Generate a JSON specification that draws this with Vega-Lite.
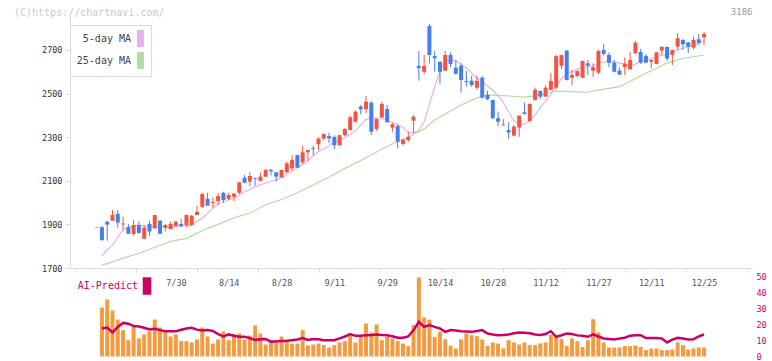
{
"$schema":"https://vega.github.io/schema/vega-lite/v6.json",
"width":682,"height":344,
"autosize":{"type":"none"},
"padding":{"left":70,"top":14,"right":20,"bottom":3},
"title":{"text":"(C)https://chartnavi.com/","anchor":"start","frame":"group","dx":-56,"offset":-19,"baseline":"alphabetic","color":"#c8c8c8","font":"DejaVu Sans Mono","fontSize":10,"fontWeight":"normal"},
"config":{"view":{"stroke":null},"font":"DejaVu Sans Mono","axis":{"domainColor":"#dcdcdc","tickColor":"#dcdcdc","labelFont":"DejaVu Sans Mono","labelFontSize":8.5,"labelColor":"#333","grid":false}},
"datasets":{
"ohlc":[
{"i":0,"d":"7/8","o":1886,"h":1888,"l":1885,"c":1888},
{"i":1,"d":"7/9","o":1887,"h":1893,"l":1825,"c":1828,"v":30.6},
{"i":2,"d":"7/10","o":1912,"h":1917,"l":1825,"c":1899,"v":35.6},
{"i":3,"d":"7/11","o":1917,"h":1966,"l":1917,"c":1943,"v":28.8},
{"i":4,"d":"7/14","o":1948,"h":1966,"l":1885,"c":1908,"v":23.1},
{"i":5,"d":"7/15","o":1900,"h":1935,"l":1874,"c":1904,"v":16.5},
{"i":6,"d":"7/16","o":1888,"h":1902,"l":1857,"c":1857,"v":10.2},
{"i":7,"d":"7/17","o":1856,"h":1920,"l":1847,"c":1897,"v":18.5},
{"i":8,"d":"7/18","o":1897,"h":1913,"l":1856,"c":1861,"v":11.3},
{"i":9,"d":"7/22","o":1834,"h":1897,"l":1834,"c":1885,"v":13.8},
{"i":10,"d":"7/23","o":1902,"h":1917,"l":1848,"c":1867,"v":15.8},
{"i":11,"d":"7/24","o":1882,"h":1943,"l":1879,"c":1943,"v":23.1},
{"i":12,"d":"7/25","o":1917,"h":1920,"l":1855,"c":1857,"v":18.1},
{"i":13,"d":"7/28","o":1885,"h":1902,"l":1867,"c":1897,"v":16.5},
{"i":14,"d":"7/29","o":1878,"h":1913,"l":1878,"c":1902,"v":12.5},
{"i":15,"d":"7/30","o":1893,"h":1917,"l":1888,"c":1912,"v":13.8},
{"i":16,"d":"7/31","o":1902,"h":1925,"l":1889,"c":1893,"v":9.6},
{"i":17,"d":"8/1","o":1897,"h":1945,"l":1888,"c":1943,"v":9.6},
{"i":18,"d":"8/4","o":1897,"h":1943,"l":1893,"c":1940,"v":8.8},
{"i":19,"d":"8/5","o":1943,"h":1986,"l":1943,"c":1958,"v":10.6},
{"i":20,"d":"8/6","o":1981,"h":2045,"l":1974,"c":2039,"v":18.1},
{"i":21,"d":"8/7","o":2017,"h":2045,"l":1986,"c":1986,"v":12.5},
{"i":22,"d":"8/8","o":1998,"h":2024,"l":1977,"c":2002,"v":8.1},
{"i":23,"d":"8/12","o":2007,"h":2045,"l":1989,"c":2030,"v":10.6},
{"i":24,"d":"8/13","o":2045,"h":2050,"l":2000,"c":2012,"v":15.6},
{"i":25,"d":"8/14","o":2017,"h":2045,"l":2012,"c":2035,"v":10.2},
{"i":26,"d":"8/15","o":2027,"h":2045,"l":2007,"c":2041,"v":13.8},
{"i":27,"d":"8/18","o":2045,"h":2093,"l":2039,"c":2093,"v":14.4},
{"i":28,"d":"8/19","o":2114,"h":2127,"l":2088,"c":2091,"v":10.6},
{"i":29,"d":"8/20","o":2096,"h":2139,"l":2077,"c":2122,"v":13.1},
{"i":30,"d":"8/21","o":2113,"h":2114,"l":2077,"c":2109,"v":19.4},
{"i":31,"d":"8/22","o":2100,"h":2139,"l":2098,"c":2119,"v":14.4},
{"i":32,"d":"8/25","o":2119,"h":2154,"l":2116,"c":2150,"v":7.5},
{"i":33,"d":"8/26","o":2150,"h":2154,"l":2124,"c":2143,"v":8.9},
{"i":34,"d":"8/27","o":2139,"h":2139,"l":2096,"c":2119,"v":8.5},
{"i":35,"d":"8/28","o":2116,"h":2150,"l":2112,"c":2150,"v":12.5},
{"i":36,"d":"8/29","o":2139,"h":2188,"l":2135,"c":2180,"v":9.6},
{"i":37,"d":"9/1","o":2157,"h":2218,"l":2145,"c":2195,"v":8.1},
{"i":38,"d":"9/2","o":2218,"h":2218,"l":2160,"c":2160,"v":8.1},
{"i":39,"d":"9/3","o":2185,"h":2260,"l":2176,"c":2231,"v":16.5},
{"i":40,"d":"9/4","o":2231,"h":2242,"l":2191,"c":2241,"v":7.0},
{"i":41,"d":"9/5","o":2250,"h":2261,"l":2218,"c":2246,"v":7.5},
{"i":42,"d":"9/8","o":2268,"h":2301,"l":2239,"c":2294,"v":8.1},
{"i":43,"d":"9/9","o":2294,"h":2316,"l":2285,"c":2315,"v":7.1},
{"i":44,"d":"9/10","o":2305,"h":2321,"l":2272,"c":2294,"v":5.6},
{"i":45,"d":"9/11","o":2301,"h":2309,"l":2245,"c":2263,"v":7.1},
{"i":46,"d":"9/12","o":2263,"h":2312,"l":2260,"c":2309,"v":8.8},
{"i":47,"d":"9/16","o":2309,"h":2343,"l":2305,"c":2337,"v":9.6},
{"i":48,"d":"9/17","o":2333,"h":2399,"l":2330,"c":2391,"v":13.8},
{"i":49,"d":"9/18","o":2371,"h":2424,"l":2368,"c":2417,"v":8.8},
{"i":50,"d":"9/19","o":2440,"h":2448,"l":2405,"c":2428,"v":12.3},
{"i":51,"d":"9/22","o":2429,"h":2489,"l":2410,"c":2463,"v":20.6},
{"i":52,"d":"9/24","o":2458,"h":2466,"l":2310,"c":2325,"v":15.0},
{"i":53,"d":"9/25","o":2338,"h":2385,"l":2330,"c":2383,"v":20.0},
{"i":54,"d":"9/26","o":2391,"h":2463,"l":2388,"c":2452,"v":10.2},
{"i":55,"d":"9/29","o":2429,"h":2448,"l":2368,"c":2368,"v":12.3},
{"i":56,"d":"9/30","o":2344,"h":2364,"l":2325,"c":2359,"v":11.3},
{"i":57,"d":"10/1","o":2351,"h":2359,"l":2249,"c":2279,"v":9.6},
{"i":58,"d":"10/2","o":2269,"h":2295,"l":2261,"c":2287,"v":8.1},
{"i":59,"d":"10/3","o":2287,"h":2325,"l":2279,"c":2302,"v":6.5},
{"i":60,"d":"10/6","o":2376,"h":2402,"l":2318,"c":2394,"v":19.6},
{"i":61,"d":"10/7","o":2627,"h":2695,"l":2559,"c":2617,"v":49.4},
{"i":62,"d":"10/8","o":2600,"h":2677,"l":2589,"c":2627,"v":24.4},
{"i":63,"d":"10/9","o":2810,"h":2819,"l":2639,"c":2677,"v":23.1},
{"i":64,"d":"10/10","o":2672,"h":2695,"l":2600,"c":2662,"v":12.3},
{"i":65,"d":"10/14","o":2646,"h":2648,"l":2543,"c":2600,"v":15.4},
{"i":66,"d":"10/15","o":2605,"h":2695,"l":2603,"c":2677,"v":10.8},
{"i":67,"d":"10/16","o":2677,"h":2689,"l":2621,"c":2636,"v":6.7},
{"i":68,"d":"10/17","o":2619,"h":2654,"l":2588,"c":2590,"v":5.0},
{"i":69,"d":"10/20","o":2628,"h":2639,"l":2504,"c":2562,"v":10.8},
{"i":70,"d":"10/21","o":2557,"h":2604,"l":2532,"c":2552,"v":14.4},
{"i":71,"d":"10/22","o":2559,"h":2581,"l":2532,"c":2539,"v":13.3},
{"i":72,"d":"10/23","o":2527,"h":2581,"l":2517,"c":2559,"v":12.7},
{"i":73,"d":"10/24","o":2573,"h":2580,"l":2478,"c":2481,"v":10.6},
{"i":74,"d":"10/27","o":2494,"h":2512,"l":2470,"c":2474,"v":6.7},
{"i":75,"d":"10/28","o":2471,"h":2471,"l":2382,"c":2387,"v":8.8},
{"i":76,"d":"10/29","o":2387,"h":2417,"l":2351,"c":2371,"v":8.1},
{"i":77,"d":"10/30","o":2354,"h":2383,"l":2354,"c":2358,"v":5.0},
{"i":78,"d":"10/31","o":2333,"h":2368,"l":2292,"c":2322,"v":10.2},
{"i":79,"d":"11/4","o":2307,"h":2356,"l":2307,"c":2348,"v":8.8},
{"i":80,"d":"11/5","o":2344,"h":2399,"l":2302,"c":2399,"v":7.5},
{"i":81,"d":"11/6","o":2414,"h":2460,"l":2404,"c":2406,"v":8.8},
{"i":82,"d":"11/7","o":2374,"h":2455,"l":2372,"c":2452,"v":7.1},
{"i":83,"d":"11/10","o":2471,"h":2527,"l":2468,"c":2517,"v":7.1},
{"i":84,"d":"11/11","o":2512,"h":2514,"l":2474,"c":2486,"v":8.2},
{"i":85,"d":"11/12","o":2486,"h":2539,"l":2484,"c":2527,"v":8.8},
{"i":86,"d":"11/13","o":2517,"h":2593,"l":2515,"c":2558,"v":13.5},
{"i":87,"d":"11/14","o":2527,"h":2677,"l":2522,"c":2672,"v":12.5},
{"i":88,"d":"11/17","o":2628,"h":2677,"l":2613,"c":2677,"v":10.8},
{"i":89,"d":"11/18","o":2697,"h":2700,"l":2560,"c":2562,"v":6.7},
{"i":90,"d":"11/19","o":2573,"h":2608,"l":2539,"c":2585,"v":11.3},
{"i":91,"d":"11/20","o":2581,"h":2605,"l":2572,"c":2604,"v":9.6},
{"i":92,"d":"11/21","o":2573,"h":2650,"l":2571,"c":2650,"v":6.0},
{"i":93,"d":"11/25","o":2639,"h":2654,"l":2585,"c":2628,"v":10.2},
{"i":94,"d":"11/26","o":2605,"h":2639,"l":2577,"c":2621,"v":23.3},
{"i":95,"d":"11/27","o":2596,"h":2700,"l":2590,"c":2695,"v":15.0},
{"i":96,"d":"11/28","o":2700,"h":2728,"l":2674,"c":2682,"v":8.8},
{"i":97,"d":"12/1","o":2677,"h":2689,"l":2621,"c":2642,"v":5.6},
{"i":98,"d":"12/2","o":2642,"h":2654,"l":2598,"c":2600,"v":5.6},
{"i":99,"d":"12/3","o":2605,"h":2619,"l":2584,"c":2587,"v":5.6},
{"i":100,"d":"12/4","o":2621,"h":2666,"l":2585,"c":2637,"v":6.5},
{"i":101,"d":"12/5","o":2611,"h":2692,"l":2611,"c":2654,"v":6.5},
{"i":102,"d":"12/8","o":2685,"h":2742,"l":2683,"c":2733,"v":6.9},
{"i":103,"d":"12/9","o":2691,"h":2705,"l":2636,"c":2642,"v":6.0},
{"i":104,"d":"12/10","o":2672,"h":2682,"l":2640,"c":2642,"v":4.0},
{"i":105,"d":"12/11","o":2646,"h":2656,"l":2616,"c":2654,"v":5.0},
{"i":106,"d":"12/12","o":2636,"h":2690,"l":2634,"c":2689,"v":5.0},
{"i":107,"d":"12/15","o":2697,"h":2718,"l":2677,"c":2714,"v":4.0},
{"i":108,"d":"12/16","o":2714,"h":2715,"l":2651,"c":2660,"v":4.0},
{"i":109,"d":"12/17","o":2678,"h":2702,"l":2631,"c":2700,"v":4.4},
{"i":110,"d":"12/18","o":2715,"h":2777,"l":2700,"c":2754,"v":8.8},
{"i":111,"d":"12/19","o":2746,"h":2750,"l":2700,"c":2726,"v":7.1},
{"i":112,"d":"12/22","o":2735,"h":2737,"l":2685,"c":2715,"v":4.4},
{"i":113,"d":"12/23","o":2711,"h":2761,"l":2703,"c":2746,"v":5.0},
{"i":114,"d":"12/24","o":2749,"h":2773,"l":2723,"c":2733,"v":5.6},
{"i":115,"d":"12/25","o":2758,"h":2783,"l":2723,"c":2773,"v":5.6}
],
"ma":[
{"i":1,"v":1755,"ma":"5-day MA"},{"i":2,"v":1783,"ma":"5-day MA"},{"i":3,"v":1805,"ma":"5-day MA"},{"i":4,"v":1841,"ma":"5-day MA"},{"i":5,"v":1874,"ma":"5-day MA"},{"i":6,"v":1887,"ma":"5-day MA"},{"i":7,"v":1893,"ma":"5-day MA"},{"i":8,"v":1896,"ma":"5-day MA"},{"i":9,"v":1893,"ma":"5-day MA"},{"i":10,"v":1889,"ma":"5-day MA"},{"i":11,"v":1889,"ma":"5-day MA"},{"i":12,"v":1885,"ma":"5-day MA"},{"i":13,"v":1889,"ma":"5-day MA"},{"i":14,"v":1885,"ma":"5-day MA"},{"i":15,"v":1889,"ma":"5-day MA"},{"i":16,"v":1891,"ma":"5-day MA"},{"i":17,"v":1893,"ma":"5-day MA"},{"i":18,"v":1897,"ma":"5-day MA"},{"i":19,"v":1914,"ma":"5-day MA"},{"i":20,"v":1928,"ma":"5-day MA"},{"i":21,"v":1951,"ma":"5-day MA"},{"i":22,"v":1974,"ma":"5-day MA"},{"i":23,"v":1992,"ma":"5-day MA"},{"i":24,"v":2004,"ma":"5-day MA"},{"i":25,"v":2012,"ma":"5-day MA"},{"i":26,"v":2020,"ma":"5-day MA"},{"i":27,"v":2035,"ma":"5-day MA"},{"i":28,"v":2050,"ma":"5-day MA"},{"i":29,"v":2060,"ma":"5-day MA"},{"i":30,"v":2072,"ma":"5-day MA"},{"i":31,"v":2081,"ma":"5-day MA"},{"i":32,"v":2090,"ma":"5-day MA"},{"i":33,"v":2098,"ma":"5-day MA"},{"i":34,"v":2104,"ma":"5-day MA"},{"i":35,"v":2115,"ma":"5-day MA"},{"i":36,"v":2128,"ma":"5-day MA"},{"i":37,"v":2145,"ma":"5-day MA"},{"i":38,"v":2160,"ma":"5-day MA"},{"i":39,"v":2175,"ma":"5-day MA"},{"i":40,"v":2192,"ma":"5-day MA"},{"i":41,"v":2215,"ma":"5-day MA"},{"i":42,"v":2233,"ma":"5-day MA"},{"i":43,"v":2245,"ma":"5-day MA"},{"i":44,"v":2262,"ma":"5-day MA"},{"i":45,"v":2275,"ma":"5-day MA"},{"i":46,"v":2288,"ma":"5-day MA"},{"i":47,"v":2298,"ma":"5-day MA"},{"i":48,"v":2312,"ma":"5-day MA"},{"i":49,"v":2330,"ma":"5-day MA"},{"i":50,"v":2355,"ma":"5-day MA"},{"i":51,"v":2382,"ma":"5-day MA"},{"i":52,"v":2387,"ma":"5-day MA"},{"i":53,"v":2387,"ma":"5-day MA"},{"i":54,"v":2387,"ma":"5-day MA"},{"i":55,"v":2376,"ma":"5-day MA"},{"i":56,"v":2368,"ma":"5-day MA"},{"i":57,"v":2358,"ma":"5-day MA"},{"i":58,"v":2345,"ma":"5-day MA"},{"i":59,"v":2322,"ma":"5-day MA"},{"i":60,"v":2320,"ma":"5-day MA"},{"i":61,"v":2330,"ma":"5-day MA"},{"i":62,"v":2371,"ma":"5-day MA"},{"i":63,"v":2448,"ma":"5-day MA"},{"i":64,"v":2532,"ma":"5-day MA"},{"i":65,"v":2600,"ma":"5-day MA"},{"i":66,"v":2650,"ma":"5-day MA"},{"i":67,"v":2654,"ma":"5-day MA"},{"i":68,"v":2651,"ma":"5-day MA"},{"i":69,"v":2633,"ma":"5-day MA"},{"i":70,"v":2618,"ma":"5-day MA"},{"i":71,"v":2595,"ma":"5-day MA"},{"i":72,"v":2570,"ma":"5-day MA"},{"i":73,"v":2555,"ma":"5-day MA"},{"i":74,"v":2535,"ma":"5-day MA"},{"i":75,"v":2515,"ma":"5-day MA"},{"i":76,"v":2490,"ma":"5-day MA"},{"i":77,"v":2460,"ma":"5-day MA"},{"i":78,"v":2417,"ma":"5-day MA"},{"i":79,"v":2375,"ma":"5-day MA"},{"i":80,"v":2360,"ma":"5-day MA"},{"i":81,"v":2360,"ma":"5-day MA"},{"i":82,"v":2375,"ma":"5-day MA"},{"i":83,"v":2402,"ma":"5-day MA"},{"i":84,"v":2435,"ma":"5-day MA"},{"i":85,"v":2466,"ma":"5-day MA"},{"i":86,"v":2495,"ma":"5-day MA"},{"i":87,"v":2535,"ma":"5-day MA"},{"i":88,"v":2570,"ma":"5-day MA"},{"i":89,"v":2590,"ma":"5-day MA"},{"i":90,"v":2600,"ma":"5-day MA"},{"i":91,"v":2611,"ma":"5-day MA"},{"i":92,"v":2620,"ma":"5-day MA"},{"i":93,"v":2623,"ma":"5-day MA"},{"i":94,"v":2628,"ma":"5-day MA"},{"i":95,"v":2638,"ma":"5-day MA"},{"i":96,"v":2646,"ma":"5-day MA"},{"i":97,"v":2646,"ma":"5-day MA"},{"i":98,"v":2646,"ma":"5-day MA"},{"i":99,"v":2640,"ma":"5-day MA"},{"i":100,"v":2636,"ma":"5-day MA"},{"i":101,"v":2627,"ma":"5-day MA"},{"i":102,"v":2634,"ma":"5-day MA"},{"i":103,"v":2648,"ma":"5-day MA"},{"i":104,"v":2655,"ma":"5-day MA"},{"i":105,"v":2660,"ma":"5-day MA"},{"i":106,"v":2669,"ma":"5-day MA"},{"i":107,"v":2675,"ma":"5-day MA"},{"i":108,"v":2680,"ma":"5-day MA"},{"i":109,"v":2690,"ma":"5-day MA"},{"i":110,"v":2700,"ma":"5-day MA"},{"i":111,"v":2708,"ma":"5-day MA"},{"i":112,"v":2715,"ma":"5-day MA"},{"i":113,"v":2722,"ma":"5-day MA"},{"i":114,"v":2732,"ma":"5-day MA"},{"i":115,"v":2742,"ma":"5-day MA"},
{"i":1,"v":1714,"ma":"25-day MA"},{"i":2,"v":1720,"ma":"25-day MA"},{"i":5,"v":1745,"ma":"25-day MA"},{"i":8,"v":1767,"ma":"25-day MA"},{"i":11,"v":1795,"ma":"25-day MA"},{"i":14,"v":1822,"ma":"25-day MA"},{"i":17,"v":1836,"ma":"25-day MA"},{"i":20,"v":1872,"ma":"25-day MA"},{"i":23,"v":1900,"ma":"25-day MA"},{"i":26,"v":1930,"ma":"25-day MA"},{"i":29,"v":1952,"ma":"25-day MA"},{"i":32,"v":1990,"ma":"25-day MA"},{"i":35,"v":2014,"ma":"25-day MA"},{"i":38,"v":2045,"ma":"25-day MA"},{"i":41,"v":2081,"ma":"25-day MA"},{"i":44,"v":2117,"ma":"25-day MA"},{"i":47,"v":2157,"ma":"25-day MA"},{"i":50,"v":2193,"ma":"25-day MA"},{"i":53,"v":2232,"ma":"25-day MA"},{"i":56,"v":2270,"ma":"25-day MA"},{"i":59,"v":2300,"ma":"25-day MA"},{"i":62,"v":2338,"ma":"25-day MA"},{"i":64,"v":2379,"ma":"25-day MA"},{"i":67,"v":2420,"ma":"25-day MA"},{"i":69,"v":2448,"ma":"25-day MA"},{"i":72,"v":2480,"ma":"25-day MA"},{"i":74,"v":2494,"ma":"25-day MA"},{"i":76,"v":2492,"ma":"25-day MA"},{"i":78,"v":2489,"ma":"25-day MA"},{"i":81,"v":2484,"ma":"25-day MA"},{"i":84,"v":2494,"ma":"25-day MA"},{"i":87,"v":2512,"ma":"25-day MA"},{"i":90,"v":2509,"ma":"25-day MA"},{"i":93,"v":2506,"ma":"25-day MA"},{"i":94,"v":2512,"ma":"25-day MA"},{"i":97,"v":2524,"ma":"25-day MA"},{"i":99,"v":2532,"ma":"25-day MA"},{"i":101,"v":2555,"ma":"25-day MA"},{"i":103,"v":2582,"ma":"25-day MA"},{"i":106,"v":2616,"ma":"25-day MA"},{"i":108,"v":2640,"ma":"25-day MA"},{"i":111,"v":2662,"ma":"25-day MA"},{"i":113,"v":2669,"ma":"25-day MA"},{"i":115,"v":2677,"ma":"25-day MA"}
],
"ai":[
{"i":1,"a":17.5},{"i":2,"a":18.1},{"i":3,"a":15},{"i":4,"a":18.5},{"i":5,"a":21},{"i":6,"a":20.5},{"i":7,"a":19},{"i":8,"a":18.8},{"i":9,"a":18},{"i":10,"a":16.9},{"i":11,"a":17.3},{"i":12,"a":16.5},{"i":13,"a":15.8},{"i":14,"a":15.8},{"i":15,"a":15.8},{"i":16,"a":16.7},{"i":17,"a":17.5},{"i":18,"a":17.9},{"i":19,"a":16.8},{"i":20,"a":16.3},{"i":21,"a":16.5},{"i":22,"a":16},{"i":23,"a":14},{"i":24,"a":12.5},{"i":25,"a":13.8},{"i":26,"a":13},{"i":27,"a":12.3},{"i":28,"a":12.3},{"i":29,"a":11.5},{"i":30,"a":10.4},{"i":31,"a":10.8},{"i":32,"a":11},{"i":33,"a":9.3},{"i":34,"a":9.4},{"i":35,"a":9.7},{"i":36,"a":9.8},{"i":37,"a":10.2},{"i":38,"a":10.6},{"i":39,"a":11.5},{"i":40,"a":10.4},{"i":41,"a":11},{"i":42,"a":10.8},{"i":43,"a":10.2},{"i":44,"a":10.2},{"i":45,"a":10.2},{"i":46,"a":11.3},{"i":47,"a":12.5},{"i":48,"a":14},{"i":49,"a":12.9},{"i":50,"a":13},{"i":51,"a":13.3},{"i":52,"a":13.5},{"i":53,"a":13.8},{"i":54,"a":13.5},{"i":55,"a":13.3},{"i":56,"a":12.7},{"i":57,"a":11.7},{"i":58,"a":11.7},{"i":59,"a":12.5},{"i":60,"a":16.5},{"i":61,"a":21.7},{"i":62,"a":18.5},{"i":63,"a":19.6},{"i":64,"a":18.5},{"i":65,"a":17.5},{"i":66,"a":15.4},{"i":67,"a":16.5},{"i":68,"a":16.2},{"i":69,"a":15.8},{"i":70,"a":15.6},{"i":71,"a":15.4},{"i":72,"a":16},{"i":73,"a":16.5},{"i":74,"a":14.4},{"i":75,"a":13.8},{"i":76,"a":13.3},{"i":77,"a":13.5},{"i":78,"a":13.8},{"i":79,"a":14.5},{"i":80,"a":15},{"i":81,"a":14.8},{"i":82,"a":14.5},{"i":83,"a":13.8},{"i":84,"a":13.5},{"i":85,"a":14},{"i":86,"a":15.8},{"i":87,"a":12.3},{"i":88,"a":13.3},{"i":89,"a":14.4},{"i":90,"a":14},{"i":91,"a":13.2},{"i":92,"a":12.9},{"i":93,"a":12.3},{"i":94,"a":13.8},{"i":95,"a":12.5},{"i":96,"a":11.3},{"i":97,"a":11},{"i":98,"a":10.6},{"i":99,"a":11.2},{"i":100,"a":11.7},{"i":101,"a":13},{"i":102,"a":13.3},{"i":103,"a":13.3},{"i":104,"a":11.5},{"i":105,"a":11.5},{"i":106,"a":11.5},{"i":107,"a":11.3},{"i":108,"a":8.8},{"i":109,"a":10.6},{"i":110,"a":11.7},{"i":111,"a":11.2},{"i":112,"a":10.6},{"i":113,"a":10.8},{"i":114,"a":12.5},{"i":115,"a":13.8}
]
},
"resolve":{"scale":{"y":"independent"},"axis":{"x":"independent","y":"independent"}},
"layer":[
{
"layer":[
{"data":{"name":"ma"},
 "mark":{"type":"line","strokeWidth":1.2},
 "encoding":{
  "x":{"field":"i","type":"quantitative","scale":{"domain":[-4.1,123.13],"nice":false,"zero":false},
       "axis":{"orient":"bottom","offset":-90,"values":[-4.1,7.464,19.028,30.592,42.156,53.72,65.284,76.848,88.412,99.976,111.54,123.1],"labels":false,"tickSize":4,"title":null}},
  "y":{"field":"v","type":"quantitative","scale":{"domain":[1700,2865],"range":[254,0],"nice":false,"zero":false},
       "axis":{"orient":"left","values":[1700,1900,2100,2300,2500,2700],"format":"d","tickSize":5,"labelPadding":3,"title":null}},
  "color":{"field":"ma","type":"nominal","scale":{"domain":["5-day MA","25-day MA"],"range":["#e9b1e9","#b3daa3"]},
       "legend":{"orient":"none","legendX":0,"legendY":11,"title":null,"symbolType":"M-0.38,-1H0.38V1H-0.38Z","symbolSize":256,"symbolStrokeWidth":1,"symbolOffset":57,"labelAlign":"right","labelOffset":-18,"labelFont":"DejaVu Sans Mono","labelFontSize":10,"labelColor":"#444","strokeColor":"#dcdcdc","fillColor":"white","padding":5,"rowPadding":1,
         "encode":{"symbols":{"update":{"fill":{"scale":"color","field":"value"},"stroke":{"value":"#666"},"strokeWidth":{"value":1}}}}}}
 }},
{"data":{"name":"ohlc"},
 "mark":{"type":"rule","strokeWidth":1},
 "encoding":{
  "x":{"field":"i","type":"quantitative"},
  "y":{"field":"l","type":"quantitative"},
  "y2":{"field":"h"},
  "color":{"condition":{"test":"datum.c >= datum.o","value":"#f25442"},"value":"#4580ea"}
 }},
{"data":{"name":"ohlc"},
 "mark":{"type":"bar","size":4},
 "encoding":{
  "x":{"field":"i","type":"quantitative"},
  "y":{"field":"o","type":"quantitative"},
  "y2":{"field":"c"},
  "color":{"condition":{"test":"datum.c >= datum.o","value":"#f25442"},"value":"#4580ea"}
 }}
]
},
{"data":{"name":"ohlc"},
 "mark":{"type":"bar","size":4,"color":"#f29b40"},
 "encoding":{
  "x":{"field":"i","type":"quantitative","scale":{"domain":[-4.1,123.13],"nice":false,"zero":false},
       "axis":{"orient":"bottom","offset":-90,"values":[15,25,35,45,55,65,75,85,95,105,115],"labelExpr":"['7/30','8/14','8/28','9/11','9/29','10/14','10/28','11/12','11/27','12/11','12/25'][(datum.value-15)/10]","domain":false,"ticks":false,"labelPadding":10,"labelColor":"#555","labelFontSize":8.5,"title":null}},
  "y":{"field":"v","type":"quantitative","scale":{"domain":[0,50],"range":[342.5,262.5],"nice":false},
       "axis":{"orient":"right","values":[0,10,20,30,40,50],"domain":false,"ticks":false,"labelPadding":4,"labelColor":"#cc0066","labelFontSize":8.5,"title":null}}
 }},
{"data":{"name":"ai"},
 "mark":{"type":"line","strokeWidth":2.5},
 "encoding":{
  "x":{"field":"i","type":"quantitative","scale":{"domain":[-4.1,123.13],"nice":false,"zero":false},
       "axis":{"orient":"top","domain":false,"ticks":false,"labels":false,"title":"3186","titleAnchor":"end","titleColor":"#999","titleFont":"DejaVu Sans Mono","titleFontSize":9,"titleFontWeight":"normal","titlePadding":-2}},
  "y":{"field":"a","type":"quantitative","scale":{"domain":[0,50],"range":[342.5,262.5],"nice":false},"axis":null},
  "stroke":{"datum":"AI-Predict","type":"nominal","scale":{"range":["#cc0066"]},
       "legend":{"orient":"none","legendX":6,"legendY":263,"title":null,"symbolType":"M-0.44,-1H0.44V1H-0.44Z","symbolSize":256,"symbolOffset":62,"labelAlign":"right","labelOffset":-18,"labelColor":"#cc0066","labelFont":"DejaVu Sans Mono","labelFontSize":10,"padding":0,
         "encode":{"symbols":{"update":{"fill":{"value":"#cc0066"},"stroke":{"value":"#cc0066"}}}}}}
 }}
]
}
